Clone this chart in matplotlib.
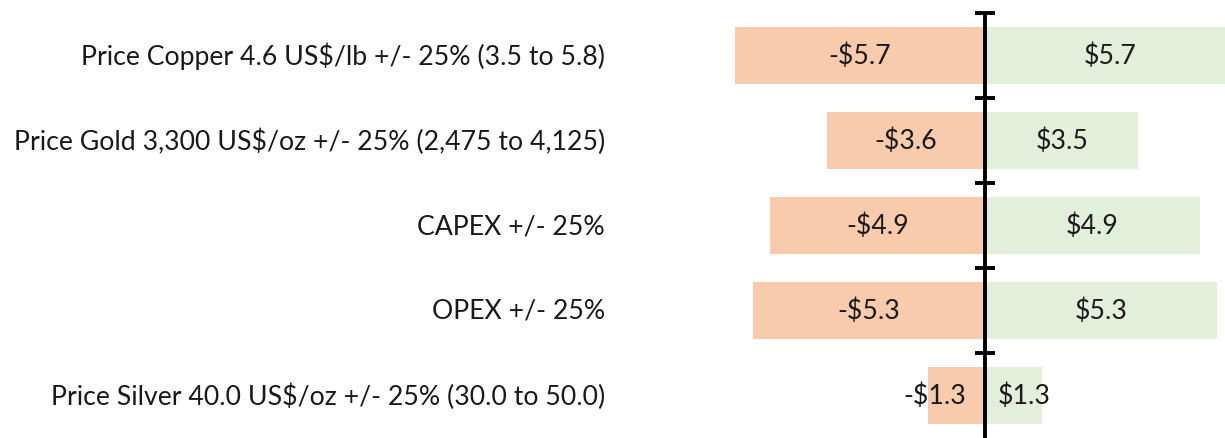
import matplotlib
matplotlib.use("Agg")
import matplotlib.pyplot as plt
import numpy as np

# data
labels = ["Price Copper 4.6 US$/lb +/- 25% (3.5 to 5.8)",
          "Price Gold 3,300 US$/oz +/- 25% (2,475 to 4,125)",
          "CAPEX +/- 25%",
          "OPEX +/- 25%",
          "Price Silver 40.0 US$/oz +/- 25% (30.0 to 50.0)"]
low = [-5.7, -3.6, -4.9, -5.3, -1.3]
high = [5.7, 3.5, 4.9, 5.3, 1.3]

orange = "#F8CBAD"
green = "#E2EFDA"
txt = "#1a1a1a"

plt.rcParams['font.family'] = ['Lato', 'DejaVu Sans']

fig = plt.figure(figsize=(12.25, 4.39), dpi=100)
# axes spans full width; zero line sits at x=985 px, ~43.8 px per unit
px_per_unit = 43.8
x0_px = 985
ax = fig.add_axes([0, 0, 1, 1 - 14 / 439])
ax.set_xlim(-x0_px / px_per_unit, (1225 - x0_px) / px_per_unit)

n = len(labels)
y = np.arange(n)
ax.set_ylim(n - 0.5, -0.5)

ax.barh(y, low, height=0.66, color=orange, zorder=1)
ax.barh(y, high, height=0.66, color=green, zorder=1)

# value labels (silver labels pushed outward like the original)
off_low = [0, 0, 0, 0, -16]
off_high = [0, 0, 0, 0, 8]
for i in range(n):
    ax.annotate("-$%.1f" % abs(low[i]), (low[i] / 2, y[i]), xytext=(off_low[i], 0),
                textcoords="offset points", ha="center", va="center", fontsize=19.2, color=txt)
    ax.annotate("$%.1f" % high[i], (high[i] / 2, y[i]), xytext=(off_high[i], 0),
                textcoords="offset points", ha="center", va="center", fontsize=19.2, color=txt)

# category labels to the left
lab_x = (605 - x0_px) / px_per_unit
for i in range(n):
    ax.text(lab_x, y[i], labels[i], ha="right", va="center", fontsize=19.2, color=txt)

# centre axis with crossing ticks at category boundaries
ax.axvline(0, color="black", lw=2.8, zorder=3)
bounds = np.arange(n) - 0.5
ax.plot(np.zeros(len(bounds)), bounds, ls="none", marker="_", markersize=14,
        markeredgewidth=2.8, color="black", zorder=3, clip_on=False)

ax.axis("off")

plt.savefig("out.png", dpi=100)
